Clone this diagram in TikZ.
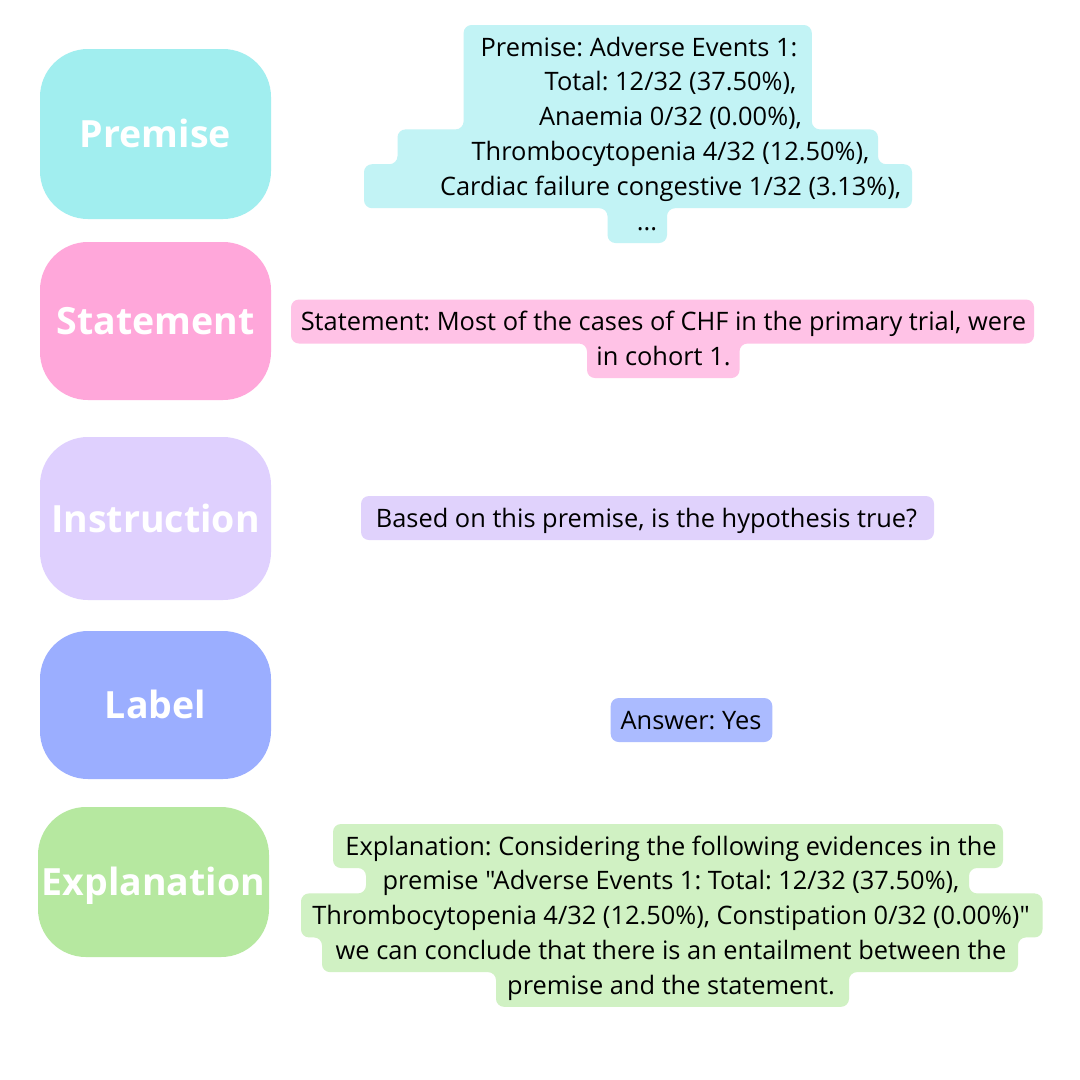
\documentclass[tikz,border=0pt]{standalone}
\usepackage{fontspec}
\setmainfont{Open Sans}[Ligatures=TeXOff]
\usepackage{tikz}
\definecolor{premdark}{HTML}{A1EEEF}
\definecolor{premlight}{HTML}{C2F3F5}
\definecolor{statdark}{HTML}{FFA7DA}
\definecolor{statlight}{HTML}{FFC2E6}
\definecolor{instrdark}{HTML}{DFD0FE}
\definecolor{instrlight}{HTML}{E0D2FC}
\definecolor{labdark}{HTML}{9BAEFF}
\definecolor{lablight}{HTML}{ABBBFF}
\definecolor{expldark}{HTML}{B6E8A0}
\definecolor{expllight}{HTML}{D0F1C3}
\frenchspacing

\begin{document}
\begin{tikzpicture}[x=1pt, y=-1pt, node distance=34.8pt, every node/.style={inner sep=0pt}, catbox/.style={rectangle, rounded corners=48pt, minimum width=231pt, text=white, font=\fontsize{37.5}{40}\selectfont\bfseries, text height=27pt, text depth=0pt}, txtline/.style={text=black, font=\fontsize{25.4}{30}\selectfont, text height=18pt, text depth=6pt}, txtbg/.style={rounded corners=8pt}]
	\fill[white] (0,0) rectangle (1080,1080);
	\useasboundingbox (0,0) rectangle (1080,1080);

	\node[catbox, fill=premdark, minimum height=170pt] (premise) at (155.5,134) {Premise};
	\node[catbox, fill=statdark, minimum height=158pt] (statement) at (155.5,321) {Statement};
	\node[catbox, fill=instrdark, minimum height=163pt] (instruction) at (155.5,518.5) {Instruction};
	\node[catbox, fill=labdark, minimum height=148pt] (label) at (155.5,705) {Label};
	\node[catbox, fill=expldark, minimum height=150pt] (explanation) at (153.5,882) {Explanation};

	\fill[txtbg, premlight] (463.6,25) -- (811.8,25) -- (811.8,129.4) -- (878,129.4) -- (878,164.2) -- (912,164.2) -- (912,208.2) -- (667,208.2) -- (667,243) -- (607.5,243) -- (607.5,208.2) -- (364,208.2) -- (364,164.2) -- (397.5,164.2) -- (397.5,129.4) -- (463.6,129.4) -- cycle;
	\fill[txtbg, statlight] (291,299.5) -- (1034,299.5) -- (1034,343.5) -- (739.5,343.5) -- (739.5,378) -- (587,378) -- (587,343.5) -- (291,343.5) -- cycle;
	\fill[txtbg, instrlight] (361,496) rectangle (934,540);
	\fill[txtbg, lablight] (610.7,698) rectangle (772.3,742);
	\fill[txtbg, expllight] (333,824) -- (1003,824) -- (1003,868) -- (969,868) -- (969,893.4) -- (1042.5,893.4) -- (1042.5,937.4) -- (1018,937.4) -- (1018,972.1) -- (849,972.1) -- (849,1006.8) -- (496,1006.8) -- (496,972.1) -- (322,972.1) -- (322,937.4) -- (301,937.4) -- (301,893.4) -- (366,893.4) -- (366,868) -- (333,868) -- cycle;

	\node[txtline] (prem1) at (639,50) {Premise: Adverse Events 1:};
	\node[txtline] (prem2) [below of=prem1, xshift=31.5pt] {Total: 12/32 (37.50\%),};
	\node[txtline] (prem3) [below of=prem2] {Anaemia 0/32 (0.00\%),};
	\node[txtline] (prem4) [below of=prem3] {Thrombocytopenia 4/32 (12.50\%),};
	\node[txtline] (prem5) [below of=prem4] {Cardiac failure congestive 1/32 (3.13\%),};
	\node[txtline] (prem6) [below of=prem5, xshift=-23.5pt] {...};

	\node[txtline] (stat1) at (663.5,324.5) {Statement: Most of the cases of CHF in the primary trial, were};
	\node[txtline] (stat2) [below of=stat1] {in cohort 1.};

	\node[txtline] (instr) at (646.5,521.3) {Based on this premise, is the hypothesis true?};

	\node[txtline] (answer) at (691,723.3) {Answer: Yes};

	\node[txtline] (expl1) at (671,849) {Explanation: Considering the following evidences in the};
	\node[txtline] (expl2) [below of=expl1] {premise "Adverse Events 1: Total: 12/32 (37.50\%),};
	\node[txtline] (expl3) [below of=expl2] {Thrombocytopenia 4/32 (12.50\%), Constipation 0/32 (0.00\%)"};
	\node[txtline] (expl4) [below of=expl3] {we can conclude that there is an entailment between the};
	\node[txtline] (expl5) [below of=expl4] {premise and the statement.};
\end{tikzpicture}
\end{document}
